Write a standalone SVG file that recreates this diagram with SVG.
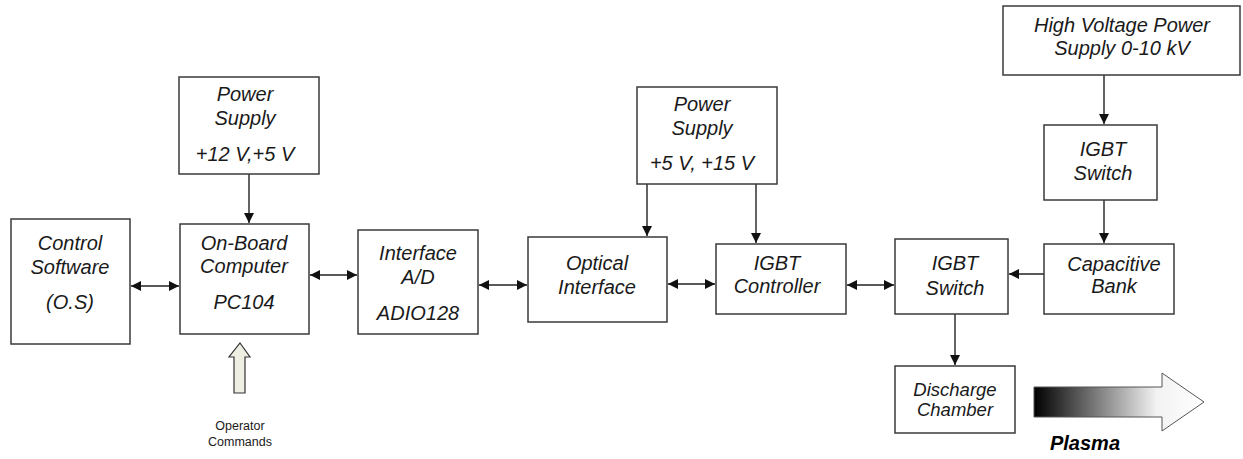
<svg xmlns="http://www.w3.org/2000/svg" width="1243" height="459" viewBox="0 0 1243 459">
<defs>
<style>
.box{fill:#fff;stroke:#3a3a3a;stroke-width:1.5}
.t{font-family:"Liberation Sans",Arial,sans-serif;font-style:italic;font-size:20px;fill:#1a1a1a;text-anchor:middle}
.op{font-family:"Liberation Sans",Arial,sans-serif;font-size:12.5px;fill:#1a1a1a;text-anchor:middle}
.pl{font-family:"Liberation Sans",Arial,sans-serif;font-style:italic;font-weight:bold;font-size:20px;fill:#000;text-anchor:middle}
.c{stroke:#222;stroke-width:1.4;fill:none}
</style>
<marker id="ah" viewBox="0 0 10 10" refX="10" refY="5" markerWidth="10" markerHeight="10" markerUnits="userSpaceOnUse" orient="auto-start-reverse">
<path d="M0,0 L10,5 L0,10 Z" fill="#111"/>
</marker>
<linearGradient id="pg" x1="1034" y1="0" x2="1204" y2="0" gradientUnits="userSpaceOnUse">
<stop offset="0" stop-color="#000"/>
<stop offset="0.72" stop-color="#f2f2f2"/>
<stop offset="1" stop-color="#fff"/>
</linearGradient>
</defs>

<g id="connectors">
<line class="c" x1="131" y1="286" x2="179" y2="286" marker-start="url(#ah)" marker-end="url(#ah)"/>
<line class="c" x1="310" y1="275" x2="357" y2="275" marker-start="url(#ah)" marker-end="url(#ah)"/>
<line class="c" x1="479" y1="285" x2="527" y2="285" marker-start="url(#ah)" marker-end="url(#ah)"/>
<line class="c" x1="668" y1="284" x2="715" y2="284" marker-start="url(#ah)" marker-end="url(#ah)"/>
<line class="c" x1="847" y1="285" x2="894" y2="285" marker-start="url(#ah)" marker-end="url(#ah)"/>
<line class="c" x1="1044" y1="274" x2="1009" y2="274" marker-end="url(#ah)"/>
<line class="c" x1="249" y1="174" x2="249" y2="223" marker-end="url(#ah)"/>
<line class="c" x1="647" y1="184" x2="647" y2="236" marker-end="url(#ah)"/>
<line class="c" x1="756" y1="184" x2="756" y2="243" marker-end="url(#ah)"/>
<line class="c" x1="1104" y1="75" x2="1104" y2="124" marker-end="url(#ah)"/>
<line class="c" x1="1104" y1="200" x2="1104" y2="243" marker-end="url(#ah)"/>
<line class="c" x1="955" y1="314" x2="955" y2="365" marker-end="url(#ah)"/>
</g>

<g id="control-software">
<rect class="box" x="11" y="219" width="119" height="125"/>
<text class="t" x="70" y="250">Control</text>
<text class="t" x="70" y="274">Software</text>
<text class="t" x="70" y="309">(O.S)</text>
</g>

<g id="onboard-computer">
<rect class="box" x="180" y="224" width="129" height="110"/>
<text class="t" x="244" y="250">On-Board</text>
<text class="t" x="244" y="273">Computer</text>
<text class="t" x="244" y="309">PC104</text>
</g>

<g id="power-supply-1">
<rect class="box" x="179" y="77" width="140" height="97"/>
<text class="t" x="245" y="101">Power</text>
<text class="t" x="245" y="125">Supply</text>
<text class="t" x="245" y="161">+12 V,+5 V</text>
</g>

<g id="interface-ad">
<rect class="box" x="358" y="230" width="120" height="104"/>
<text class="t" x="418" y="260">Interface</text>
<text class="t" x="418" y="284">A/D</text>
<text class="t" x="418" y="320">ADIO128</text>
</g>

<g id="optical-interface">
<rect class="box" x="528" y="237" width="139" height="85"/>
<text class="t" x="597" y="270">Optical</text>
<text class="t" x="597" y="294">Interface</text>
</g>

<g id="power-supply-2">
<rect class="box" x="637" y="87" width="140" height="97"/>
<text class="t" x="702" y="111">Power</text>
<text class="t" x="702" y="135">Supply</text>
<text class="t" x="702" y="170">+5 V, +15 V</text>
</g>

<g id="igbt-controller">
<rect class="box" x="716" y="244" width="130" height="70"/>
<text class="t" x="777" y="270">IGBT</text>
<text class="t" x="777" y="293">Controller</text>
</g>

<g id="igbt-switch-lower">
<rect class="box" x="895" y="239" width="113" height="75"/>
<text class="t" x="955" y="270">IGBT</text>
<text class="t" x="955" y="295">Switch</text>
</g>

<g id="capacitive-bank">
<rect class="box" x="1044" y="244" width="130" height="70"/>
<text class="t" x="1114" y="271">Capacitive</text>
<text class="t" x="1114" y="293">Bank</text>
</g>

<g id="igbt-switch-upper">
<rect class="box" x="1044" y="125" width="113" height="75"/>
<text class="t" x="1103" y="156">IGBT</text>
<text class="t" x="1103" y="180">Switch</text>
</g>

<g id="hv-supply">
<rect class="box" x="1003" y="6" width="237" height="69"/>
<text class="t" x="1122" y="32">High Voltage Power</text>
<text class="t" x="1122" y="55">Supply 0-10 kV</text>
</g>

<g id="discharge-chamber">
<rect class="box" x="895" y="366" width="120" height="67"/>
<text class="t" x="955" y="396" style="font-size:18.5px">Discharge</text>
<text class="t" x="955" y="416" style="font-size:18.5px">Chamber</text>
</g>

<g id="operator-commands">
<path d="M240,343 L250,357 L245,357 L245,393 L234,393 L234,357 L229,357 Z" fill="#efeee2" stroke="#333" stroke-width="1.2"/>
<text class="op" x="240" y="430">Operator</text>
<text class="op" x="240" y="446">Commands</text>
</g>

<g id="plasma">
<path d="M1034,387 L1162,387 L1162,373 L1204,402 L1162,431 L1162,417 L1034,417 Z" fill="url(#pg)" stroke="#555" stroke-width="1"/>
<text class="pl" x="1085" y="450">Plasma</text>
</g>
</svg>
